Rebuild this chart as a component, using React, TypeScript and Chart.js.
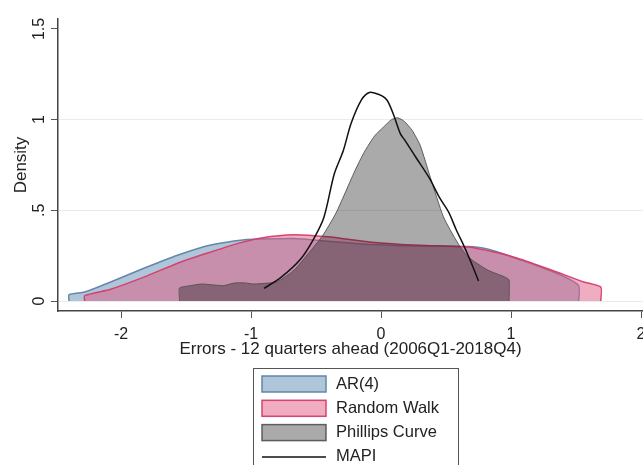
import React, { useEffect, useRef } from "react";
import { Chart, registerables } from "chart.js";

Chart.register(...registerables);

const SERIES_NAMES = ["AR(4)", "Random Walk", "Phillips Curve", "MAPI"];

const X_TICKS = [-2, -1, 0, 1, 2];
const Y_TICKS = [0, 0.5, 1, 1.5];
const Y_TICK_LABELS = ["0", ".5", "1", "1.5"];
const X_TITLE = "Errors - 12 quarters ahead (2006Q1-2018Q4)";
const Y_TITLE = "Density";

const AR4_X = [-2.4, -2.4, -2.28, -2.08, -1.82, -1.56, -1.31, -1.05, -0.92, -0.67, -0.41, -0.15, 0.0, 0.15, 0.45, 0.67, 0.8, 0.92, 1.05, 1.18, 1.38, 1.52, 1.52];
const AR4_Y = [0, 0.035, 0.05, 0.105, 0.182, 0.254, 0.309, 0.338, 0.342, 0.345, 0.33, 0.315, 0.31, 0.305, 0.303, 0.3, 0.29, 0.265, 0.232, 0.2, 0.144, 0.085, 0];

const RW_X = [-2.28, -2.28, -2.08, -1.82, -1.56, -1.31, -1.1, -0.92, -0.67, -0.41, -0.15, 0.0, 0.2, 0.41, 0.67, 0.87, 1.05, 1.31, 1.56, 1.69, 1.69];
const RW_Y = [0, 0.03, 0.065, 0.133, 0.21, 0.27, 0.318, 0.348, 0.365, 0.354, 0.331, 0.32, 0.31, 0.305, 0.298, 0.27, 0.236, 0.171, 0.105, 0.077, 0];

const PC_X = [-1.55, -1.55, -1.48, -1.38, -1.28, -1.21, -1.13, -1.05, -0.98, -0.87, -0.8, -0.67, -0.55, -0.45, -0.35, -0.28, -0.2, -0.13, -0.05, 0.02, 0.08, 0.13, 0.18, 0.24, 0.3, 0.38, 0.48, 0.59, 0.67, 0.82, 0.95, 0.985, 0.985];
const PC_Y = [0, 0.072, 0.083, 0.094, 0.088, 0.085, 0.099, 0.1, 0.094, 0.099, 0.105, 0.17, 0.27, 0.36, 0.48, 0.59, 0.72, 0.82, 0.91, 0.96, 1.0, 1.01, 0.99, 0.94, 0.86, 0.68, 0.464, 0.32, 0.243, 0.171, 0.133, 0.116, 0];

const MAPI_X = [-0.9, -0.77, -0.62, -0.52, -0.44, -0.36, -0.29, -0.23, -0.15, -0.09, -0.02, 0.03, 0.06, 0.1, 0.15, 0.18, 0.27, 0.37, 0.45, 0.52, 0.58, 0.64, 0.7, 0.75];
const MAPI_Y = [0.07, 0.13, 0.23, 0.34, 0.46, 0.7, 0.83, 0.98, 1.11, 1.15, 1.14, 1.12, 1.09, 1.02, 0.92, 0.89, 0.79, 0.68, 0.57, 0.49, 0.39, 0.3, 0.2, 0.11];

const FILLS = ["rgba(110,150,185,0.55)", "rgba(225,90,130,0.5)", "rgba(20,20,20,0.36)"];
const BORDERS = ["rgba(95,130,165,0.95)", "rgba(214,60,105,0.95)", "rgba(80,80,80,0.9)"];
const FONT = '"Liberation Sans", Arial, sans-serif';

const toPoints = (xs: number[], ys: number[]) => xs.map((x, i) => ({ x, y: ys[i] }));

const boxLegend = {
  id: "boxLegend",
  afterDraw(chart: any) {
    const ctx = chart.ctx;
    ctx.save();
    ctx.strokeStyle = "#555";
    ctx.lineWidth = 1;
    ctx.strokeRect(253.5, 368.5, 205, 120);
    SERIES_NAMES.forEach((name, i) => {
      const cy = 384 + i * 24.3;
      if (i < 3) {
        ctx.fillStyle = FILLS[i];
        ctx.fillRect(262, cy - 8, 64, 16);
        ctx.strokeStyle = BORDERS[i];
        ctx.lineWidth = 1.5;
        ctx.strokeRect(262, cy - 8, 64, 16);
      } else {
        ctx.strokeStyle = "#111";
        ctx.lineWidth = 1.5;
        ctx.beginPath();
        ctx.moveTo(262, cy);
        ctx.lineTo(326, cy);
        ctx.stroke();
      }
      ctx.fillStyle = "#222";
      ctx.font = `16.5px ${FONT}`;
      ctx.textBaseline = "middle";
      ctx.textAlign = "left";
      ctx.fillText(name, 336, cy);
    });
    ctx.restore();
  },
};

export default function App() {
  const ref = useRef<HTMLCanvasElement | null>(null);
  useEffect(() => {
    document.body.style.margin = "0";
    const canvas = ref.current;
    if (!canvas) return;
    const areaDs = (i: number, xs: number[], ys: number[]) => ({
      label: SERIES_NAMES[i],
      data: toPoints(xs, ys),
      backgroundColor: FILLS[i],
      borderColor: BORDERS[i],
      borderWidth: i === 2 ? 1 : 1.5,
      fill: "origin",
      pointRadius: 0,
      tension: 0.2,
      order: 4 - i,
    });
    const chart = new Chart(canvas, {
      type: "line",
      data: {
        datasets: [
          areaDs(0, AR4_X, AR4_Y),
          areaDs(1, RW_X, RW_Y),
          areaDs(2, PC_X, PC_Y),
          {
            label: SERIES_NAMES[3],
            data: toPoints(MAPI_X, MAPI_Y),
            borderColor: "#111",
            borderWidth: 1.5,
            fill: false,
            pointRadius: 0,
            tension: 0.3,
            order: 0,
          },
        ],
      },
      options: {
        animation: false,
        responsive: false,
        devicePixelRatio: 1,
        layout: { padding: { top: 19, right: 0, bottom: 104, left: 0 } },
        plugins: { legend: { display: false }, tooltip: { enabled: false } },
        scales: {
          x: {
            type: "linear",
            min: -2.485,
            max: 2.015,
            afterBuildTicks: (s: any) => {
              s.ticks = X_TICKS.map((v) => ({ value: v }));
            },
            afterFit: (s: any) => {
              s.height = 50;
              s.paddingLeft = 0;
              s.paddingRight = 0;
            },
            grid: { drawOnChartArea: false, drawTicks: true, tickLength: 7, tickColor: "#555" },
            border: { color: "#444", width: 1.5 },
            ticks: {
              padding: 7,
              maxRotation: 0,
              color: "#222",
              font: { family: FONT, size: 16 },
              callback: (v: any) => String(v),
            },
            title: {
              display: true,
              text: X_TITLE,
              color: "#222",
              font: { family: FONT, size: 17 },
              padding: { top: 0, bottom: 1 },
            },
          },
          y: {
            type: "linear",
            min: -0.055,
            max: 1.555,
            afterBuildTicks: (s: any) => {
              s.ticks = Y_TICKS.map((v) => ({ value: v }));
            },
            afterFit: (s: any) => {
              s.width = 58;
              s.paddingTop = 0;
              s.paddingBottom = 0;
            },
            grid: {
              color: (c: any) => (c.tick && Y_TICKS.indexOf(c.tick.value) >= 0 && c.tick.value < 1.5 ? "#e6edf1" : "rgba(0,0,0,0)"),
              drawTicks: true,
              tickLength: 7,
              tickColor: "#555",
            },
            border: { color: "#444", width: 1.5 },
            ticks: {
              minRotation: 90,
              maxRotation: 90,
              padding: 0,
              crossAlign: "center",
              color: "#222",
              font: { family: FONT, size: 16 },
              callback: (v: any) => {
                const k = Y_TICKS.indexOf(Number(v));
                return k >= 0 ? Y_TICK_LABELS[k] : "";
              },
            },
            title: {
              display: true,
              text: Y_TITLE,
              color: "#222",
              font: { family: FONT, size: 17 },
              padding: { top: 11, bottom: 0 },
            },
          },
        },
      },
      plugins: [boxLegend],
    } as any);
    return () => chart.destroy();
  }, []);
  return (
    <div style={{ width: 643, height: 465, background: "#fff" }}>
      <canvas ref={ref} width={643} height={465} style={{ display: "block" }} />
    </div>
  );
}
